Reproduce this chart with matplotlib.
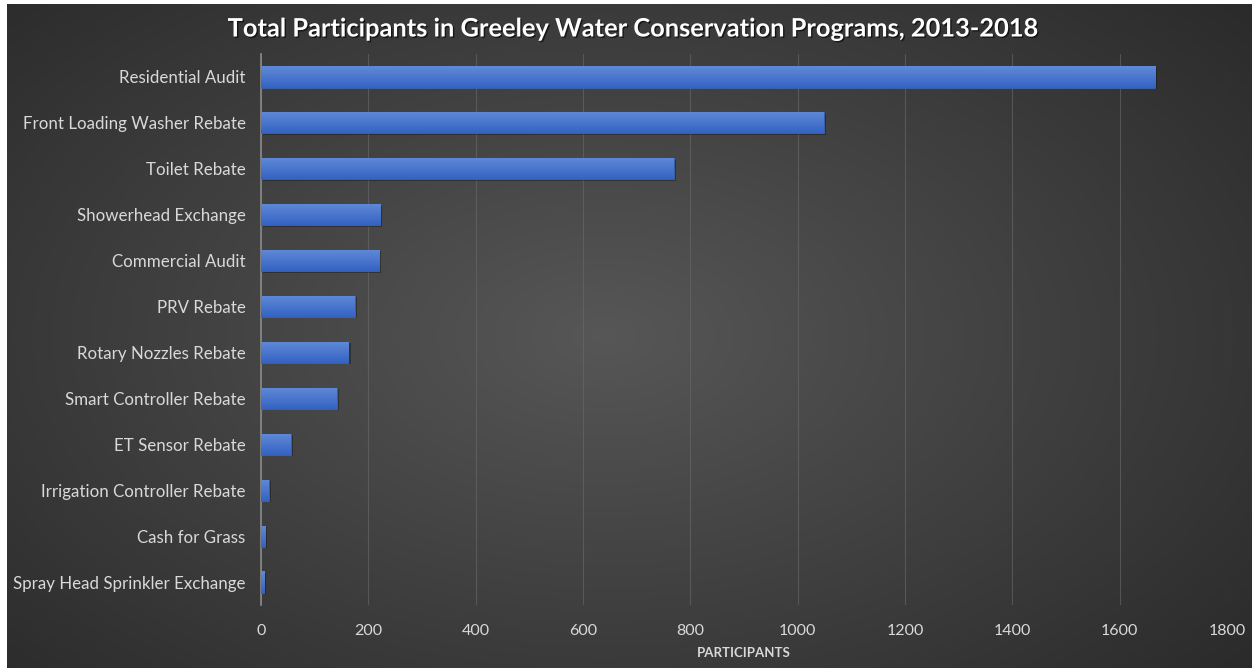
import numpy as np
import matplotlib
matplotlib.use('Agg')
import matplotlib.pyplot as plt
import matplotlib.patheffects as pe

# --- data ---
programs = [
    "Residential Audit",
    "Front Loading Washer Rebate",
    "Toilet Rebate",
    "Showerhead Exchange",
    "Commercial Audit",
    "PRV Rebate",
    "Rotary Nozzles Rebate",
    "Smart Controller Rebate",
    "ET Sensor Rebate",
    "Irrigation Controller Rebate",
    "Cash for Grass",
    "Spray Head Sprinkler Exchange",
]
participants = [1666, 1049, 769, 222, 220, 175, 163, 141, 55, 14, 8, 6]
x_ticks = [0, 200, 400, 600, 800, 1000, 1200, 1400, 1600, 1800]

title = "Total Participants in Greeley Water Conservation Programs, 2013-2018"
x_label = "PARTICIPANTS"

plt.rcParams['font.family'] = ['Lato', 'DejaVu Sans']

W, H = 1252, 668
fig = plt.figure(figsize=(W / 100, H / 100), dpi=100, facecolor='white')

# dark radial background
bg = fig.add_axes([7 / W, 0, 1 - 7 / W, 1 - 4 / H])
yy, xx = np.mgrid[0:1:300j, 0:1:600j]
r = np.sqrt(((xx - 0.48) / 0.75) ** 2 + ((yy - 0.5) / 0.85) ** 2)
shade = np.clip(0.34 - 0.19 * r, 0.13, 0.34)
bg.imshow(np.dstack([shade] * 3), aspect='auto', extent=[0, 1, 0, 1], interpolation='bilinear')
bg.set_axis_off()

# plot area
left, right = 261 / W, 1227 / W
top, bottom = 1 - 54 / H, 1 - 605 / H
ax = fig.add_axes([left, bottom, right - left, top - bottom])
ax.patch.set_alpha(0)

n = len(programs)
ypos = np.arange(n)
bar_h = 0.46

# soft shadows under the bars
ax.barh(ypos + 0.03, participants, height=bar_h, left=4, color='black', alpha=0.3, zorder=2)
bars = ax.barh(ypos, participants, height=bar_h, color='#4472c4', edgecolor='#3a63b0',
               linewidth=0.6, zorder=3)

# vertical gradient inside each bar
grad = np.linspace(0, 1, 50).reshape(-1, 1)
c_top = np.array([0x60, 0x8a, 0xd8]) / 255
c_bot = np.array([0x35, 0x63, 0xc2]) / 255
grad_img = c_top + (c_bot - c_top) * grad[..., None]
for b, y, v in zip(bars, ypos, participants):
    im = ax.imshow(grad_img, aspect='auto', extent=[0, v, y + bar_h / 2, y - bar_h / 2],
                   zorder=4, interpolation='bilinear')
    im.set_clip_path(b)

ax.set_xlim(0, 1800)
ax.set_ylim(n - 0.5, -0.5)
ax.set_xticks(x_ticks)
ax.set_yticks(ypos)
ax.set_yticklabels(programs, fontsize=12.2)
ax.tick_params(axis='both', length=0, colors='#d9d9d9')
ax.tick_params(axis='x', labelsize=11.5, pad=14)
ax.tick_params(axis='y', pad=11)
ax.grid(axis='x', color='#6a6a6a', linewidth=0.8, alpha=0.6, zorder=0)
ax.set_axisbelow(True)
for s in ['top', 'right', 'bottom']:
    ax.spines[s].set_visible(False)
ax.spines['left'].set_color('#8a8a8a')
ax.spines['left'].set_linewidth(1.2)

ax.set_xlabel(x_label, color='#d9d9d9', fontsize=9.5, fontweight='bold', labelpad=6)

fig.text(0.505, 1 - 29 / H, title, ha='center', va='center', color='white',
         fontsize=18.3, fontweight='bold',
         path_effects=[pe.withSimplePatchShadow(offset=(1, -1), shadow_rgbFace='black', alpha=0.6)])

fig.savefig('out.png', dpi=100, facecolor=fig.get_facecolor())
